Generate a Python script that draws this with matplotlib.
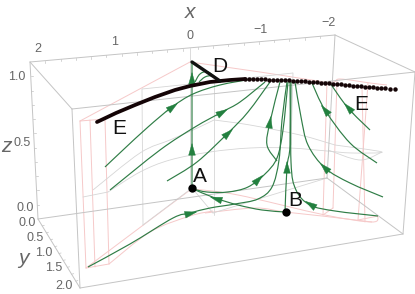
import numpy as np
import matplotlib
matplotlib.use("Agg")
import matplotlib.pyplot as plt
from matplotlib.path import Path
from matplotlib.patches import PathPatch

plt.rcParams['font.family'] = ['Liberation Sans', 'DejaVu Sans']

# ---- tick labels ----
x_tick_labels = ["2", "1", "0", "\u22121", "\u22122"]
x_tick_pos = [(38, 49), (115, 42), (190, 36), (260, 30), (328, 23)]
y_tick_labels = ["0.0", "0.5", "1.0", "1.5", "2.0"]
y_tick_pos = [(27, 223), (35, 238), (44, 253), (54, 268), (64, 286)]
z_tick_labels = ["1.0", "0.5", "0.0"]
z_tick_pos = [(17, 77), (22, 143), (25, 208)]

# ---- box edges ----
box_edges = [
    [(30, 62), (335, 35)], [(30, 62), (72, 109)], [(72, 109), (415, 72)], [(335, 35), (415, 72)],
    [(38, 219), (327, 178)], [(38, 219), (80, 288)], [(80, 288), (403, 234)], [(327, 178), (403, 234)],
    [(30, 62), (38, 219)], [(72, 109), (80, 288)], [(335, 35), (327, 178)], [(415, 72), (403, 234)],
]

# ---- grey wireframe ----
grey_curves = [
    [(142, 89), (200, 83), (293, 73)],
    [(142, 89), (143, 225)],
    [(190, 48), (190, 188)],
    [(214, 83), (214, 215)],
    [(293, 73), (291, 145)],
    [(143, 225), (192, 188)],
    [(192, 188), (213, 213)],
    [(213, 213), (327, 178)],
    [(83, 197), (108, 192)],
    [(108, 192), (140, 172), (170, 160), (210, 152), (250, 148), (290, 148), (327, 151)],
    [(93, 190), (140, 153), (170, 140), (193, 130), (214, 120)],
    [(214, 120), (250, 125), (300, 135), (335, 145)],
    [(327, 151), (352, 153), (382, 152), (335, 145)],
    [(328, 150), (360, 160), (382, 152)],
]

# ---- pink wireframe ----
pink_curves = [
    [(80, 121), (190, 62)],
    [(80, 121), (105, 119)],
    [(80, 121), (86, 268)],
    [(90, 120), (95, 267)],
    [(105, 119), (109, 264)],
    [(86, 268), (109, 264)],
    [(86, 268), (190, 190)],
    [(109, 264), (150, 232), (190, 216), (213, 211)],
    [(193, 189), (238, 195), (325, 215), (372, 222), (378, 216)],
    [(205, 213), (255, 208), (285, 212), (322, 216), (372, 222)],
    [(190, 62), (260, 72), (327, 82), (340, 79), (370, 83), (387, 85)],
    [(327, 82), (323, 215)],
    [(337, 80), (333, 208)],
    [(368, 83), (358, 220)],
    [(362, 87), (365, 222)],
    [(323, 215), (333, 208)],
    [(358, 220), (378, 216)],
]

# ---- streamlines ----
streamlines = [
    [(105, 167), (123, 150), (148, 127), (172, 107), (193, 94), (220, 85), (252, 79)],
    [(110, 190), (160, 150), (195, 127), (222, 112), (240, 102), (265, 82)],
    [(167, 181), (197, 162), (228, 133), (248, 112), (270, 82)],
    [(192, 188), (192, 148), (192, 78), (192, 62)],
    [(195, 82), (200, 74), (208, 72), (220, 81)],
    [(199, 82), (205, 77), (212, 76), (220, 81)],
    [(193, 189), (215, 198), (238, 205), (262, 210), (285, 212)],
    [(88, 267), (130, 244), (173, 218), (190, 213), (210, 208), (235, 204), (258, 199), (272, 187), (279, 160), (282, 120), (287, 82)],
    [(193, 189), (207, 192), (228, 192), (248, 187), (265, 174), (277, 158), (283, 130), (288, 82)],
    [(285, 212), (287, 167), (290, 145), (290, 82)],
    [(378, 216), (335, 211), (310, 205), (296, 190), (291, 162), (291, 82)],
    [(383, 197), (350, 183), (325, 168), (308, 145), (301, 117), (295, 82)],
    [(377, 163), (350, 143), (325, 110), (312, 83)],
    [(370, 130), (348, 108), (330, 83)],
    [(277, 161), (267, 145), (270, 122), (280, 82)],
]

# ---- arrowheads: (tail, tip) ----
arrows = [
    ((166, 112), (178, 103)), ((216, 116), (228, 109)), ((222, 139), (233, 129)),
    ((192, 153), (192, 143)), ((192, 85), (192, 72)), ((220, 200), (210, 197)),
    ((184, 215), (197, 212)), ((254, 184), (263, 175)), ((287, 173), (287, 161)),
    ((316, 208), (305, 201)), ((330, 173), (320, 163)), ((330, 116), (321, 105)),
    ((354, 114), (344, 103)), ((269, 128), (271, 116)),
]

# ---- black critical curve E ----
E_line_x = [97, 116, 135, 155, 175, 190, 210, 230, 245]
E_line_y = [122, 113, 105, 97, 90, 86, 82, 80, 79]
E_dots_x = [245, 249, 253, 257, 261, 265, 269, 273, 277, 281, 285, 289, 293, 297, 301, 305, 309, 313, 317, 321,
            325, 329, 333, 337, 341, 345, 349, 353, 357, 361, 365, 369, 373, 377, 381, 385, 390, 395]
E_dots_y = [79, 79, 79, 79, 79, 79, 79.5, 79.5, 80, 80, 80, 80, 80.5, 80.5, 81, 81, 81.5, 82, 82, 82.5,
            83, 83, 83.5, 84, 84, 84.5, 85, 85.5, 85.5, 86, 86.5, 87, 87, 87.5, 88, 88, 88.5, 89]
D_x = [192, 220]
D_y = [62, 81]
points_x = [192, 286]
points_y = [188, 212]

# ---- annotations ----
labels = ["E", "D", "A", "B", "E"]
label_pos = [(119, 128), (220, 66), (200, 176), (295, 200), (361, 104)]

GREEN = "#2f7d46"
GREY = "#c4c4c4"
PINK = "#f6c9c9"
TEXT = "#666666"


def smooth(ax, pts, **kw):
    pts = np.asarray(pts, float)
    if len(pts) < 3:
        ax.plot(pts[:, 0], pts[:, 1], solid_capstyle="round", **kw)
        return
    verts = [pts[0]]
    codes = [Path.MOVETO]
    p = np.vstack([pts[0], pts, pts[-1]])
    for i in range(1, len(p) - 2):
        verts += [p[i] + (p[i + 1] - p[i - 1]) / 6, p[i + 1] - (p[i + 2] - p[i]) / 6, p[i + 1]]
        codes += [Path.CURVE4] * 3
    ax.add_patch(PathPatch(Path(verts, codes), fill=False, ec=kw["color"], lw=kw["lw"], zorder=kw.get("zorder", 2)))


fig = plt.figure(figsize=(4.15, 2.94), dpi=100)
ax = fig.add_axes([0, 0, 1, 1])
ax.set_xlim(0, 415)
ax.set_ylim(294, 0)
ax.axis("off")

for c in pink_curves:
    smooth(ax, c, color=PINK, lw=0.7, zorder=1)
for c in grey_curves:
    smooth(ax, c, color="#d6d6d6", lw=0.6, zorder=1.2)
for c in box_edges:
    smooth(ax, c, color=GREY, lw=0.7, zorder=1.4)

# small ticks along the framed axes
for (a, b), n, d in [(((30, 62), (335, 35)), 20, (0, 2)),
                     (((30, 62), (38, 219)), 11, (2, 0)),
                     (((38, 219), (80, 288)), 10, (2, -0.5))]:
    a, b = np.array(a, float), np.array(b, float)
    for f in np.linspace(0, 1, n + 1)[1:-1]:
        q = a + (b - a) * f
        ax.plot([q[0], q[0] + d[0]], [q[1], q[1] + d[1]], color=GREY, lw=0.5, zorder=1.4)

for c in streamlines:
    smooth(ax, c, color=GREEN, lw=0.85, zorder=3)
for tail, tip in arrows:
    ax.annotate("", xy=tip, xytext=tail, zorder=4,
                arrowprops=dict(arrowstyle="-|>,head_length=0.75,head_width=0.22", color="#23803f",
                                lw=0.3, mutation_scale=11, shrinkA=0, shrinkB=0))

ax.plot(E_line_x, E_line_y, color="#140406", lw=2.7, solid_capstyle="round", zorder=5)
ax.plot(E_dots_x, E_dots_y, ls="none", marker="o", ms=3.2, mfc="#140406", mec="none", zorder=5)
ax.plot(D_x, D_y, color="#111111", lw=2.4, solid_capstyle="round", zorder=5)
ax.plot(points_x, points_y, ls="none", marker="o", ms=6, mfc="black", mec="none", zorder=6)

for t, (px, py) in zip(x_tick_labels, x_tick_pos):
    ax.text(px, py, t, color=TEXT, fontsize=9, ha="center", va="center")
for t, (px, py) in zip(y_tick_labels, y_tick_pos):
    ax.text(px, py, t, color=TEXT, fontsize=9, ha="center", va="center")
for t, (px, py) in zip(z_tick_labels, z_tick_pos):
    ax.text(px, py, t, color=TEXT, fontsize=9, ha="center", va="center")
ax.text(190, 12, "x", color=TEXT, fontsize=15, style="italic", ha="center", va="center")
ax.text(6, 146, "z", color=TEXT, fontsize=15, style="italic", ha="center", va="center")
ax.text(23, 258, "y", color=TEXT, fontsize=15, style="italic", ha="center", va="center")

for t, (px, py) in zip(labels, label_pos):
    ax.text(px, py, t, color="#111111", fontsize=15, ha="center", va="center", zorder=7)

fig.savefig("out.png", dpi=100)
